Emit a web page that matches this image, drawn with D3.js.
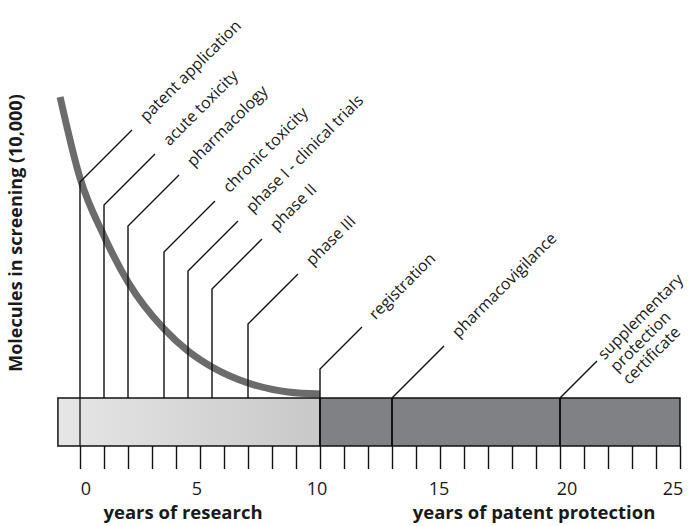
<!DOCTYPE html>
<html><head><meta charset="utf-8">
<script src="https://cdn.jsdelivr.net/npm/d3@7"></script>
<style>
body{margin:0;background:#fff}
svg{display:block}
text{font-family:"Open Sans",sans-serif;fill:#1a1a1a}
</style>
</head><body>
<svg id="chart" width="688" height="526"></svg>
<script>
// ---- data ----
const curveYears  = [-0.83, 0, 1, 2, 3.5, 4.5, 5.5, 7, 8.67, 10];
const curveValues = [10000, 7273, 5320, 3771, 2189, 1448, 909, 370, 67, 0];

const eventNames = ["patent application","acute toxicity","pharmacology","chronic toxicity",
  "phase I - clinical trials","phase II","phase III","registration","pharmacovigilance",
  "supplementary\nprotection\ncertificate"];
const eventYears = [0, 1, 2, 3.5, 4.5, 5.5, 7, 10, 13, 20];

const periodNames  = ["years of research","years of patent protection"];
const periodStarts = [-0.92, 10];
const periodEnds   = [10, 25];
const dividerYears = [0, 10, 13, 20];

const tickYears  = d3.range(0, 26);
const tickLabels = [0, 5, 10, 15, 20, 25];
const yLabel = "Molecules in screening (10,000)";

// ---- layout (pixels) ----
const stemTops   = [182, 205, 226, 252, 271, 289, 324, 369, 398, 398];
const leaderLens = [52, 51, 51, 51, 50, 50, 50, 42, 52, 37];
const labelGaps  = [11, 11, 11, 11, 11, 11, 11, 10, 11, 4];
const labelNudge = [6, -3, -3, -1, 7, -7];

const svg = d3.select("#chart");
const x = d3.scaleLinear().domain([0, 25]).range([80, 680]);
const y = d3.scaleLinear().domain([0, 10000]).range([394, 97]);
const barTop = 398, barBottom = 446;

// gradient
const defs = svg.append("defs");
const g = defs.append("linearGradient").attr("id","research").attr("x1","0").attr("x2","1");
g.append("stop").attr("offset","0").attr("stop-color","#e6e6e6");
g.append("stop").attr("offset","1").attr("stop-color","#c8c8c8");

// curve
const curveData = curveYears.map((d,i)=>[d,curveValues[i]]);
svg.append("path")
  .datum(curveData)
  .attr("d", d3.line().x(d=>x(d[0])).y(d=>y(d[1])).curve(d3.curveMonotoneX))
  .attr("fill","none").attr("stroke","#6b6b6b").attr("stroke-width",7);

// bars
svg.selectAll("rect.period").data(periodNames).join("rect")
  .attr("class","period")
  .attr("x",(d,i)=>x(periodStarts[i]))
  .attr("width",(d,i)=>x(periodEnds[i])-x(periodStarts[i]))
  .attr("y",barTop).attr("height",barBottom-barTop)
  .attr("fill",(d,i)=> i===0 ? "url(#research)" : "#808184")
  .attr("stroke","#111").attr("stroke-width",1.5);

// dividers inside bar
svg.selectAll("line.div").data(dividerYears).join("line")
  .attr("x1",d=>x(d)).attr("x2",d=>x(d))
  .attr("y1",barTop).attr("y2",barBottom)
  .attr("stroke","#111").attr("stroke-width",d=>d===0?1.3:2);

// ticks
const tickAxis = d3.axisBottom(x).tickValues(tickYears).tickSize(23).tickFormat("");
const ta = svg.append("g").attr("transform",`translate(0,${barBottom})`).call(tickAxis);
ta.select(".domain").remove();
ta.selectAll(".tick line").attr("stroke","#111").attr("stroke-width",1.4);

// tick labels
svg.selectAll("text.tl").data(tickLabels).join("text")
  .attr("class","tl")
  .attr("x",(d,i)=>x(d)+labelNudge[i]).attr("y",495)
  .attr("text-anchor","middle").attr("font-size",18)
  .text(d=>d);

// period titles
svg.selectAll("text.pt").data(periodNames).join("text")
  .attr("class","pt")
  .attr("x",(d,i)=> i===0 ? 183 : 534).attr("y",519)
  .attr("text-anchor","middle").attr("font-size",18.5).attr("font-weight","bold")
  .text(d=>d);

// y label
svg.append("text")
  .attr("transform","translate(22,233) rotate(-90)")
  .attr("text-anchor","middle").attr("font-size",18).attr("font-weight","bold")
  .text(yLabel);

// event leaders
const ev = svg.selectAll("g.ev").data(eventNames).join("g").attr("class","ev");
ev.append("path")
  .attr("d",(d,i)=>{
    const px = x(eventYears[i]), L = leaderLens[i];
    return `M${px},${barTop}V${stemTops[i]}l${L},${-L}`;
  })
  .attr("fill","none").attr("stroke","#111").attr("stroke-width",1.4);

ev.append("text")
  .attr("transform",(d,i)=>{
    const L = leaderLens[i], gap = labelGaps[i];
    const ex = x(eventYears[i]) + L + gap, ey = stemTops[i] - L - gap;
    return `translate(${ex},${ey}) rotate(-45)`;
  })
  .attr("font-size",16)
  .each(function(d){
    const t = d3.select(this);
    d.split("\n").forEach((line,k)=>{
      t.append("tspan").attr("x",0).attr("y",0).attr("dy",(0.3 + k*1.1)+"em").text(line);
    });
  });
</script>
</body></html>
